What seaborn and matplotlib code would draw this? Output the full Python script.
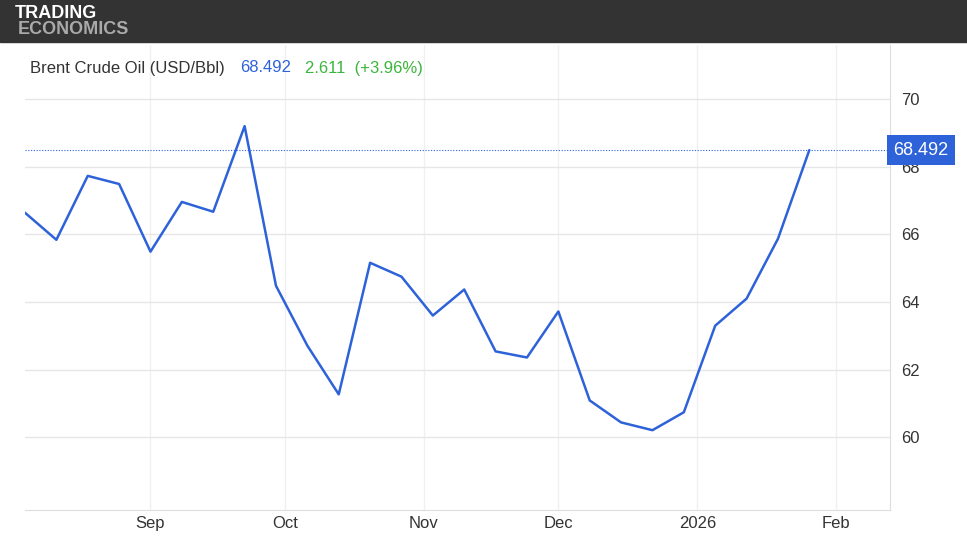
import numpy as np
import pandas as pd
import matplotlib.pyplot as plt
import matplotlib.dates as mdates
import seaborn as sns

sns.set_style('white')
plt.rcParams['font.family'] = ['Liberation Sans', 'DejaVu Sans']

dates = pd.date_range('2025-08-04', periods=26, freq='7D')
prices = [66.64, 65.84, 67.73, 67.49, 65.49, 66.96, 66.67, 69.20, 64.48, 62.71,
          61.27, 65.16, 64.75, 63.60, 64.37, 62.54, 62.36, 63.72, 61.09, 60.44,
          60.21, 60.74, 63.30, 64.10, 65.87, 68.492]
df = pd.DataFrame({'date': dates, 'price': prices})

month_ticks = pd.to_datetime(['2025-09-01', '2025-10-01', '2025-11-01', '2025-12-01', '2026-01-01', '2026-02-01'])
month_labels = ['Sep', 'Oct', 'Nov', 'Dec', '2026', 'Feb']
y_ticks = [60, 62, 64, 66, 68, 70]

fig = plt.figure(figsize=(9.67, 5.45), dpi=100)
# banner
fig.patches.append(plt.Rectangle((0, 1 - 42/545), 1, 42/545, transform=fig.transFigure, color='#333333', zorder=0))
fig.text(15/967, 1 - 13/545, 'TRADING', color='white', fontsize=13, fontweight='bold', va='center')
fig.text(18/967, 1 - 30/545, 'ECONOMICS', color='#aaaaaa', fontsize=13, fontweight='bold', va='center')

ax = fig.add_axes([25/967, 35/545, 865/967, 465/545])
ax.set_xlim(pd.Timestamp('2025-08-04'), pd.Timestamp('2026-02-13'))
ax.set_ylim(57.85, 71.6)
for m in month_ticks:
    ax.axvline(m, color='#f0f0f0', lw=1, zorder=0)
for t in y_ticks:
    ax.axhline(t, color='#e6e6e6', lw=1, zorder=0)
sns.lineplot(data=df, x='date', y='price', ax=ax, color='#2e62d9', lw=1.8)
last = prices[-1]
ax.axhline(last, color='#2e62d9', lw=0.8, ls=(0, (1, 1.5)))

ax.set_xticks(month_ticks)
ax.set_xticklabels(month_labels)
ax.yaxis.tick_right()
ax.set_yticks(y_ticks)
ax.set_yticklabels([str(t) for t in y_ticks])
ax.tick_params(axis='both', length=0, labelsize=12, colors='#333333', pad=8)
ax.tick_params(axis='x', pad=4)
ax.set_xlabel('')
ax.set_ylabel('')
for s in ['top', 'left']:
    ax.spines[s].set_visible(False)
ax.spines['right'].set_color('#dddddd')
ax.spines['bottom'].set_color('#dddddd')

ax.text(1.004, last, f'{last:.3f}', transform=ax.get_yaxis_transform(), color='white', fontsize=13,
        va='center', ha='left', bbox=dict(boxstyle='square,pad=0.35', fc='#2e62d9', ec='none'))

fig.text(30/967, 1 - 68/545, 'Brent Crude Oil (USD/Bbl)', color='#333333', fontsize=12, va='center')
fig.text(240/967, 1 - 68/545, '68.492', color='#2e62d9', fontsize=12, va='center')
fig.text(305/967, 1 - 68/545, '2.611  (+3.96%)', color='#3cb53c', fontsize=12, va='center')

fig.savefig('out.png', dpi=100)
